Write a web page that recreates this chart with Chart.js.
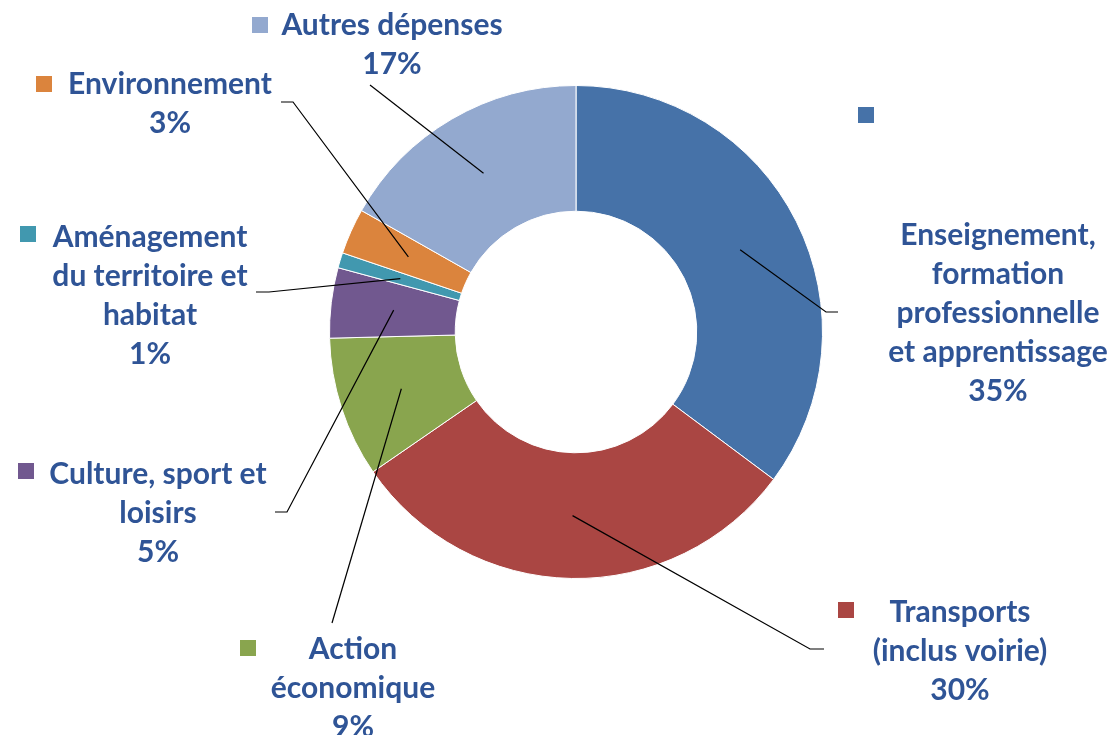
<!DOCTYPE html>
<html>
<head>
<meta charset="utf-8">
<script src="https://cdn.jsdelivr.net/npm/chart.js@4"></script>
<style>
  body { margin: 0; background: #fff; }
  #wrap { width: 1109px; height: 735px; position: relative; }
</style>
</head>
<body>
<div id="wrap"><canvas id="myChart"></canvas></div>
<script>
// data
var categories = [
    'Enseignement, formation professionnelle et apprentissage',
    'Transports (inclus voirie)',
    'Action économique',
    'Culture, sport et loisirs',
    'Aménagement du territoire et habitat',
    'Environnement',
    'Autres dépenses'
];
var values = [35.2, 30.2, 9.2, 4.6, 1.0, 3.0, 16.8];
var labelLines = [
    ['Enseignement,', 'formation', 'professionnelle', 'et apprentissage'],
    ['Transports', '(inclus voirie)'],
    ['Action', 'économique'],
    ['Culture, sport et', 'loisirs'],
    ['Aménagement', 'du territoire et', 'habitat'],
    ['Environnement'],
    ['Autres dépenses']
];
var colors = ['#4672A8', '#AA4643', '#89A54E', '#71588F', '#4198AF', '#DB843D', '#93A9CF'];

// where each label sits (hand placed, like the original)
var labelLayout = [
    { cx: 998, y: 235, sq: [858, 107], elbow: [826, 312], end: [838, 312] },
    { cx: 960, y: 612, sq: [838, 602], elbow: [810, 649], end: [824, 649] },
    { cx: 353, y: 649, sq: [240, 640], elbow: [332, 623], end: null },
    { cx: 158, y: 474, sq: [18, 463], elbow: [287, 512], end: [275, 512] },
    { cx: 150, y: 237, sq: [20, 226], elbow: [269, 292], end: [256, 292] },
    { cx: 170, y: 84, sq: [36, 76], elbow: [293, 102], end: [281, 102] },
    { cx: 392, y: 25, sq: [252, 17], elbow: [370, 85], end: null }
];
var lineGap = 39;
var textColor = '#2F5496';

var total = values.reduce(function (a, b) { return a + b; }, 0);

var outerLabels = {
    id: 'outerLabels',
    afterDraw: function (chart) {
        var ctx = chart.ctx;
        var meta = chart.getDatasetMeta(0);
        ctx.save();
        meta.data.forEach(function (arc, i) {
            var lay = labelLayout[i];
            var p = arc.tooltipPosition();
            // leader line
            ctx.strokeStyle = '#000';
            ctx.lineWidth = 1.2;
            ctx.beginPath();
            ctx.moveTo(p.x, p.y);
            ctx.lineTo(lay.elbow[0], lay.elbow[1]);
            if (lay.end) ctx.lineTo(lay.end[0], lay.end[1]);
            ctx.stroke();
            // key square
            ctx.fillStyle = colors[i];
            ctx.fillRect(lay.sq[0], lay.sq[1], 16, 16);
            // text
            var lines = labelLines[i].concat([Math.round(values[i] / total * 100) + '%']);
            ctx.fillStyle = textColor;
            ctx.font = 'bold 30px Lato, "Open Sans", sans-serif';
            ctx.textAlign = 'center';
            ctx.textBaseline = 'middle';
            lines.forEach(function (t, k) {
                ctx.fillText(t, lay.cx, lay.y + k * lineGap);
            });
        });
        ctx.restore();
    }
};

var ctx = document.getElementById('myChart').getContext('2d');
var myChart = new Chart(ctx, {
    type: 'doughnut',
    data: {
        labels: categories,
        datasets: [{
            data: values,
            backgroundColor: colors,
            borderColor: '#ffffff',
            borderWidth: 1
        }]
    },
    options: {
        responsive: true,
        maintainAspectRatio: false,
        animation: false,
        cutout: '49%',
        layout: { padding: { top: 84, bottom: 155, left: 329, right: 286 } },
        plugins: {
            legend: { display: false },
            tooltip: { enabled: false }
        }
    },
    plugins: [outerLabels]
});
</script>
</body>
</html>
